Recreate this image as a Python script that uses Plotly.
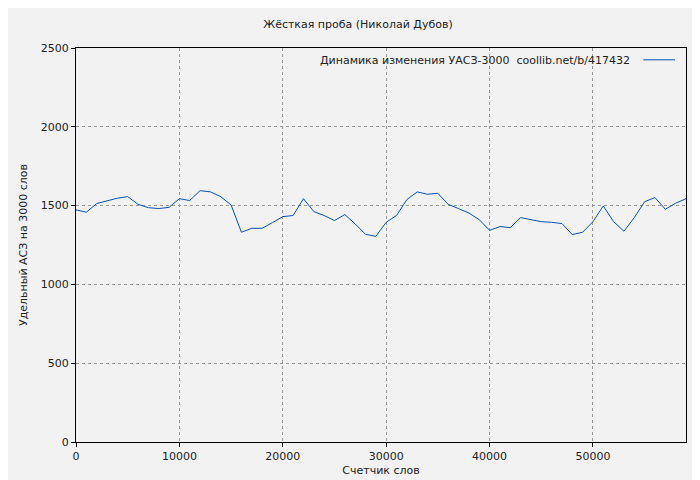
import plotly.graph_objects as go

x_words = list(range(0, 60000, 1000))
values = [1473,1458,1513,1530,1547,1557,1508,1487,1481,1489,
          1544,1532,1595,1587,1557,1504,1331,1356,1356,1392,
          1430,1437,1544,1462,1437,1405,1443,1384,1318,1305,
          1394,1437,1538,1587,1572,1578,1508,1481,1453,1411,
          1343,1367,1360,1424,1411,1398,1394,1386,1316,1331,
          1398,1498,1398,1337,1424,1525,1551,1477,1515,1544]
series_name = "Динамика изменения УАСЗ-3000  coollib.net/b/417432"
title = "Жёсткая проба (Николай Дубов)"
line_color = "#0a4fb4"

fig = go.Figure(go.Scatter(x=x_words, y=values, mode="lines", name=series_name,
                           line=dict(color=line_color, width=1), showlegend=False))
ax = dict(showline=True, linecolor="black", linewidth=1, mirror=True,
          gridcolor="#999999", griddash="dot", gridwidth=1, zeroline=False,
          ticks="outside", ticklen=4, tickcolor="black", automargin=False,
          tickfont=dict(size=11, color="#222"))
fig.update_layout(
    width=700, height=480, paper_bgcolor="#f2f2f2", plot_bgcolor="#f2f2f2",
    margin=dict(l=68, r=22, t=40, b=46, autoexpand=False),
    font=dict(family="DejaVu Sans", size=11, color="#222"),
    title=dict(text=title, x=0.5, xanchor="center", y=0.975, yanchor="top",
               font=dict(size=11), automargin=False),
    xaxis=dict(ax, range=[0, 59000], dtick=10000, tickformat="d",
               title=dict(text="Счетчик слов", font=dict(size=11), standoff=4)),
    yaxis=dict(ax, range=[0, 2500], dtick=500,
               title=dict(text="Удельный АСЗ на 3000 слов", font=dict(size=11), standoff=10)),
)
fig.add_annotation(xref="paper", yref="paper", x=0.912, y=0.99, xanchor="right", yanchor="top",
                   text=series_name, showarrow=False, font=dict(size=11, color="#222"))
fig.add_shape(type="line", xref="paper", yref="paper", x0=0.930, x1=0.982, y0=0.97, y1=0.97,
              line=dict(color=line_color, width=1))
fig.write_html("out.html")
